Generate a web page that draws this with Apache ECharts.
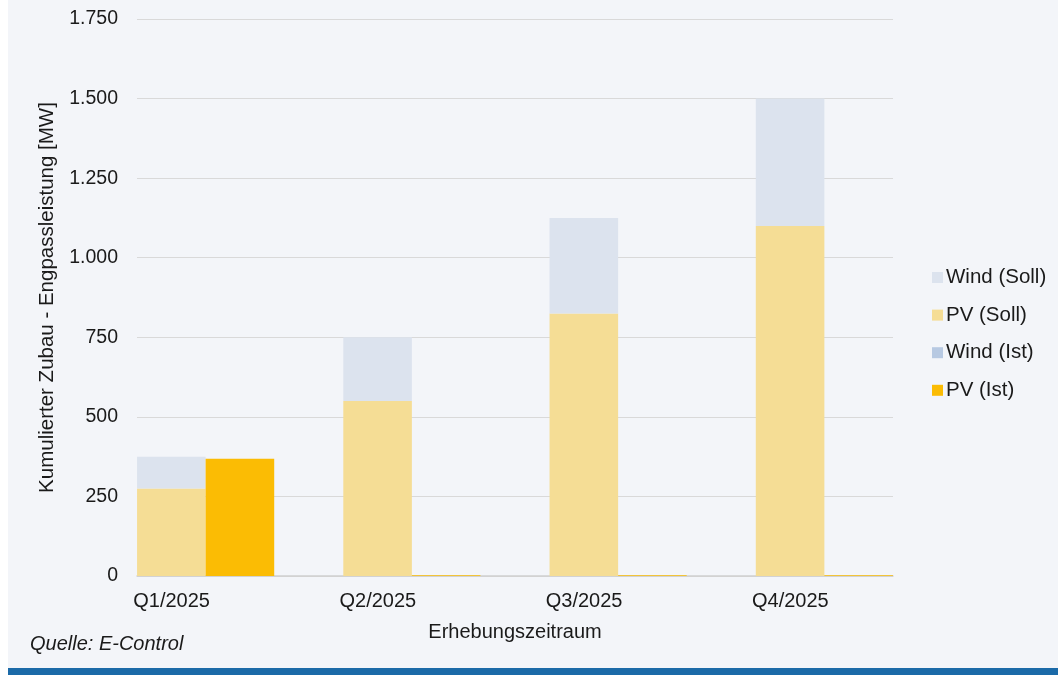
<!DOCTYPE html>
<html>
<head>
<meta charset="utf-8">
<script src="https://cdn.jsdelivr.net/npm/echarts@6/dist/echarts.min.js"></script>
<style>
html,body{margin:0;padding:0;background:#ffffff;}
#c{width:1058px;height:675px;}
</style>
</head>
<body>
<div id="c"></div>
<script>
const categories = ['Q1/2025', 'Q2/2025', 'Q3/2025', 'Q4/2025'];
const pvSoll = [275, 550, 825, 1100];
const windSoll = [100, 200, 300, 400];
const pvIst = [368, 2, 2, 2];
const windIst = [0, 0, 0, 0];
const yTicks = [0, 250, 500, 750, 1000, 1250, 1500, 1750];

const FONT = 'Liberation Sans, Arial, sans-serif';
const fmt = v => String(v).replace(/\B(?=(\d{3})+(?!\d))/g, '.');

const chart = echarts.init(document.getElementById('c'));
chart.setOption({
  backgroundColor: '#f3f5f9',
  animation: false,
  textStyle: { fontFamily: FONT },
  graphic: [
    { type: 'rect', shape: { x: 0, y: 0, width: 8, height: 675 }, style: { fill: '#ffffff' }, silent: true },
    { type: 'rect', shape: { x: 8, y: 668, width: 1050, height: 7 }, style: { fill: '#1b6aa8' }, silent: true },
    { type: 'text', left: 30, top: 634, style: { text: 'Quelle: E-Control', font: 'italic 20px ' + FONT, fill: '#1a1a1a' } }
  ],
  legend: {
    orient: 'vertical',
    left: 927,
    top: 262,
    itemWidth: 11,
    itemHeight: 11,
    itemGap: 16.6,
    icon: 'rect',
    textStyle: { fontSize: 20.5, color: '#1a1a1a', fontFamily: FONT, padding: [0, 0, 0, -2] },
    data: ['Wind (Soll)', 'PV (Soll)', 'Wind (Ist)', 'PV (Ist)']
  },
  grid: [
    { left: 102.5, right: 130.5, top: 19, bottom: 99 },
    { left: 137, right: 165, top: 19, bottom: 99 }
  ],
  xAxis: [
    {
      type: 'category', gridIndex: 0, data: categories,
      axisLine: { show: false }, axisTick: { show: false },
      axisLabel: { fontSize: 20, color: '#1a1a1a', margin: 15, padding: [0, 68, 0, 0], fontFamily: FONT }
    },
    {
      type: 'category', gridIndex: 1, data: categories,
      axisLine: { show: true, lineStyle: { color: '#d0d0d0', width: 1.5 } },
      axisTick: { show: false }, axisLabel: { show: false },
      name: 'Erhebungszeitraum', nameLocation: 'middle', nameGap: 46,
      nameTextStyle: { fontSize: 20, color: '#1a1a1a', fontFamily: FONT }
    }
  ],
  yAxis: [
    {
      type: 'value', gridIndex: 0, min: 0, max: 1750, interval: 250,
      axisLabel: { show: false }, splitLine: { show: false }, axisLine: { show: false }, axisTick: { show: false }
    },
    {
      type: 'value', gridIndex: 1, min: 0, max: 1750, interval: 250,
      axisLine: { show: false }, axisTick: { show: false },
      axisLabel: { fontSize: 19.5, color: '#1a1a1a', margin: 19, fontFamily: FONT,
        formatter: v => yTicks.includes(v) ? fmt(v) : '' },
      splitLine: { lineStyle: { color: '#d9d9d9', width: 1 } },
      name: 'Kumulierter Zubau - Engpassleistung [MW]', nameLocation: 'middle', nameGap: 79,
      nameTextStyle: { fontSize: 20.5, color: '#1a1a1a', fontFamily: FONT }
    }
  ],
  series: [
    { name: 'PV (Soll)', type: 'bar', stack: 'soll', xAxisIndex: 0, yAxisIndex: 0, data: pvSoll,
      itemStyle: { color: '#f5dd95' }, barCategoryGap: '33.5%', barGap: '0%' },
    { name: 'Wind (Soll)', type: 'bar', stack: 'soll', xAxisIndex: 0, yAxisIndex: 0, data: windSoll,
      itemStyle: { color: '#dce3ee' } },
    { name: 'PV (Ist)', type: 'bar', stack: 'ist', xAxisIndex: 0, yAxisIndex: 0, data: pvIst,
      itemStyle: { color: '#fbbc04' } },
    { name: 'Wind (Ist)', type: 'bar', stack: 'ist', xAxisIndex: 0, yAxisIndex: 0, data: windIst,
      itemStyle: { color: '#b7c9e2' } }
  ]
});
</script>
</body>
</html>
